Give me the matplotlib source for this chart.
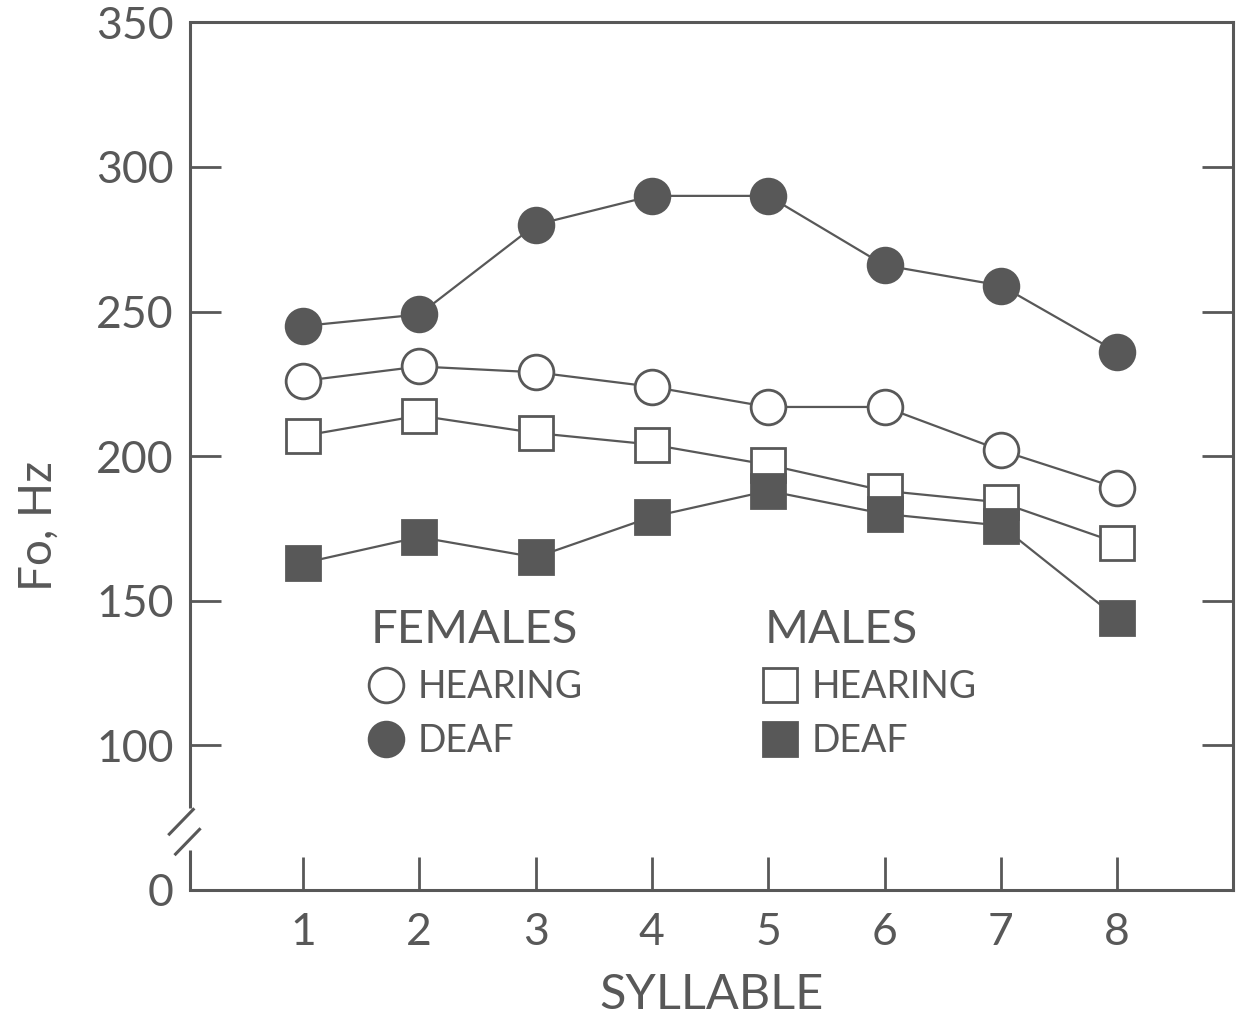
import matplotlib
matplotlib.use("Agg")
import matplotlib.pyplot as plt
from matplotlib.lines import Line2D

# syllable position and fundamental frequency (Hz)
syllables = [1, 2, 3, 4, 5, 6, 7, 8]
female_deaf = [245, 249, 280, 290, 290, 266, 259, 236]
female_hearing = [226, 231, 229, 224, 217, 217, 202, 189]
male_hearing = [207, 214, 208, 204, 197, 188, 184, 170]
male_deaf = [163, 172, 165, 179, 188, 180, 176, 144]

# the axis is broken: the bottom position is labelled 0
ytick_vals = [50, 100, 150, 200, 250, 300, 350]
ytick_labels = ["0", "100", "150", "200", "250", "300", "350"]

ink = "#585858"
plt.rcParams["font.family"] = ["Lato", "DejaVu Sans"]

fig = plt.figure(figsize=(12.51, 10.17), dpi=100)
ax = fig.add_axes([0.152, 0.125, 0.834, 0.853])

line_kw = dict(color=ink, lw=1.6, markersize=25, markeredgewidth=2.0,
               markeredgecolor=ink)
ax.plot(syllables, male_hearing, marker="s", markerfacecolor="white", **line_kw)
ax.plot(syllables, male_deaf, marker="s", markerfacecolor=ink, **line_kw)
ax.plot(syllables, female_hearing, marker="o", markerfacecolor="white", **line_kw)
ax.plot(syllables, female_deaf, marker="o", markerfacecolor=ink, **line_kw)

ax.set_xlim(0.03, 9.0)
ax.set_ylim(50, 350)
ax.set_xticks(syllables)
ax.set_yticks(ytick_vals)
ax.set_yticklabels(ytick_labels)

for side in ["top", "right", "bottom"]:
    ax.spines[side].set_color(ink)
    ax.spines[side].set_linewidth(2.2)
ax.spines["left"].set_visible(False)

# left spine with the break marks
seg = dict(color=ink, lw=2.2, transform=ax.transAxes, clip_on=False,
           solid_capstyle="butt")
ax.plot([0, 0], [0.094, 1.0], **seg)
ax.plot([0, 0], [0.0, 0.046], **seg)
ax.plot([-0.021, 0.004], [0.063, 0.094], **seg)
ax.plot([-0.015, 0.010], [0.040, 0.071], **seg)

ax.tick_params(axis="both", direction="in", color=ink, width=2.0,
               labelcolor=ink, labelsize=32)
ax.tick_params(axis="y", length=22, pad=12, right=True, labelright=False)
ax.tick_params(axis="x", length=24, pad=16)

ax.set_ylabel("Fo, Hz", fontsize=33, color=ink)
ax.yaxis.set_label_coords(-0.125, 0.42)
ax.set_xlabel("SYLLABLE", fontsize=35, color=ink, labelpad=14)

# legends for the two groups
mk = dict(color=ink, lw=0, markersize=25, markeredgewidth=2.0, markeredgecolor=ink)
fem_handles = [Line2D([], [], marker="o", markerfacecolor="white", **mk),
               Line2D([], [], marker="o", markerfacecolor=ink, **mk)]
male_handles = [Line2D([], [], marker="s", markerfacecolor="white", **mk),
                Line2D([], [], marker="s", markerfacecolor=ink, **mk)]
leg_kw = dict(frameon=False, fontsize=27, title_fontsize=34, handlelength=0.8,
              handletextpad=0.45, labelspacing=0.48, borderpad=0,
              alignment="left", labelcolor=ink)

leg1 = ax.legend(fem_handles, ["HEARING", "DEAF"], title="FEMALES",
                 loc="upper left", bbox_to_anchor=(0.155, 0.345), **leg_kw)
leg1.get_title().set_color(ink)
ax.add_artist(leg1)
leg2 = ax.legend(male_handles, ["HEARING", "DEAF"], title="MALES",
                 loc="upper left", bbox_to_anchor=(0.533, 0.345), **leg_kw)
leg2.get_title().set_color(ink)

fig.savefig("out.png", dpi=100, facecolor="white")
